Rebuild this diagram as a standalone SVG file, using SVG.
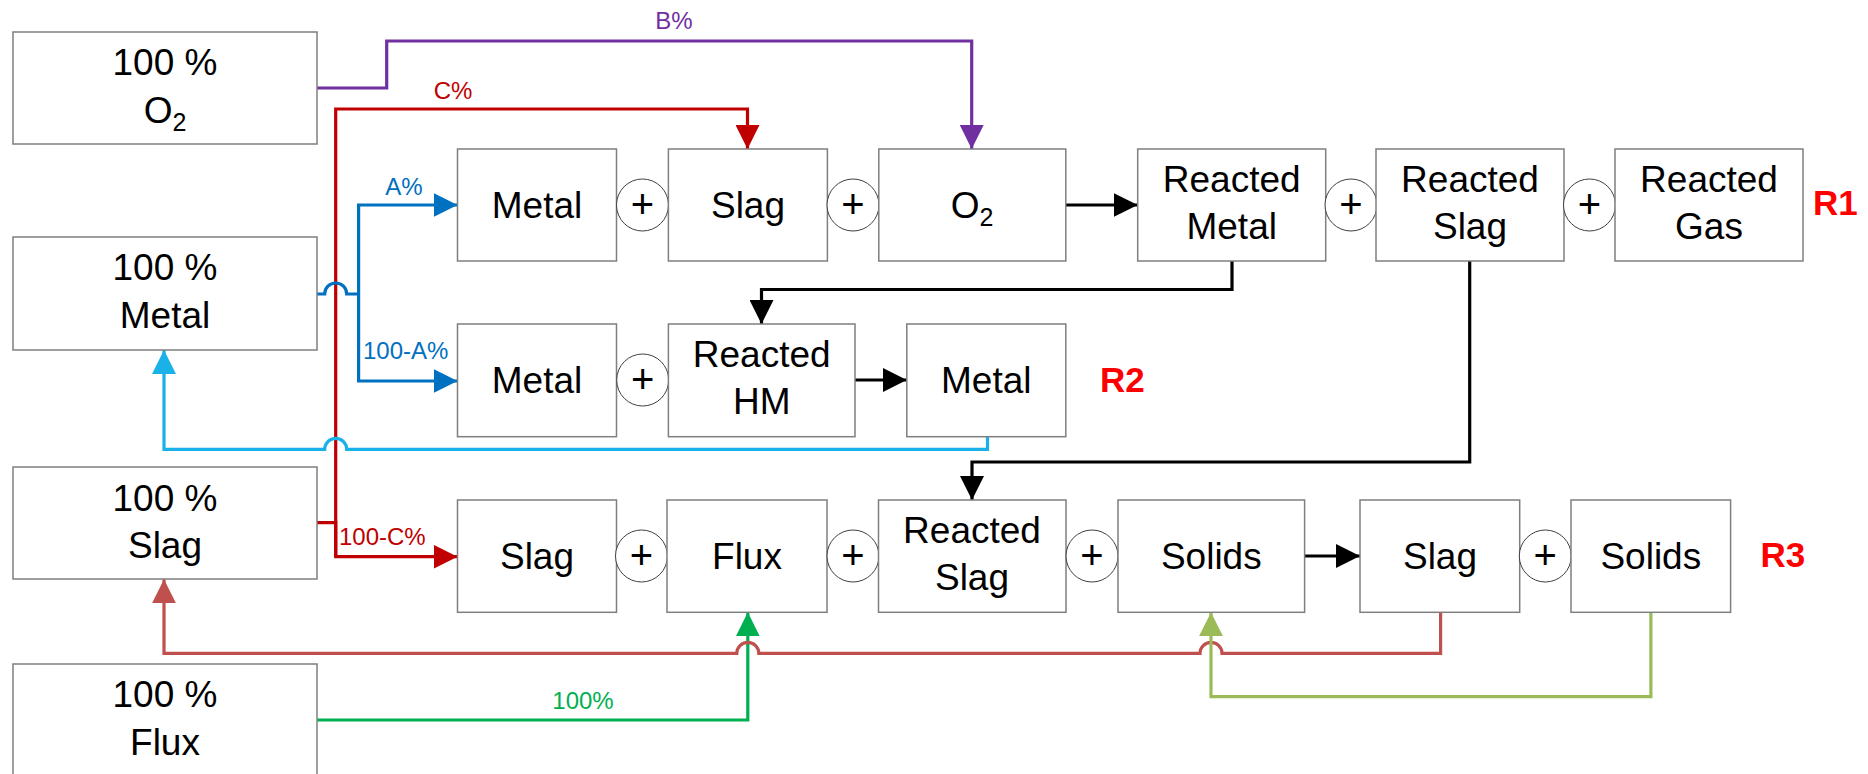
<svg xmlns="http://www.w3.org/2000/svg" width="1868" height="774" viewBox="0 0 1868 774">
<style>
.box{fill:#fff;stroke:#7f7f7f;stroke-width:1.5}
.t{font-family:"Liberation Sans",Arial,sans-serif;font-size:37px;fill:#000;text-anchor:middle}
.pl{fill:#fff;stroke:#404040;stroke-width:1}
.pt{font-family:"Liberation Sans",Arial,sans-serif;font-size:40px;fill:#000;text-anchor:middle}
.lbl{font-family:"Liberation Sans",Arial,sans-serif;font-size:24px}
.r{font-family:"Liberation Sans",Arial,sans-serif;font-size:35px;font-weight:bold;fill:#ff0000}
.c{fill:none;stroke-width:3.2}
</style>
<defs>
<marker id="mk" markerUnits="userSpaceOnUse" markerWidth="24" markerHeight="24" refX="24" refY="12" orient="auto"><path d="M0,0 L24,12 L0,24 z" fill="#000"/></marker>
<marker id="mr" markerUnits="userSpaceOnUse" markerWidth="24" markerHeight="24" refX="24" refY="12" orient="auto"><path d="M0,0 L24,12 L0,24 z" fill="#c00000"/></marker>
<marker id="mp" markerUnits="userSpaceOnUse" markerWidth="24" markerHeight="24" refX="24" refY="12" orient="auto"><path d="M0,0 L24,12 L0,24 z" fill="#7030a0"/></marker>
<marker id="mb" markerUnits="userSpaceOnUse" markerWidth="24" markerHeight="24" refX="24" refY="12" orient="auto"><path d="M0,0 L24,12 L0,24 z" fill="#0070c0"/></marker>
<marker id="mlb" markerUnits="userSpaceOnUse" markerWidth="24" markerHeight="24" refX="24" refY="12" orient="auto"><path d="M0,0 L24,12 L0,24 z" fill="#1ab0e8"/></marker>
<marker id="mbr" markerUnits="userSpaceOnUse" markerWidth="24" markerHeight="24" refX="24" refY="12" orient="auto"><path d="M0,0 L24,12 L0,24 z" fill="#c0504d"/></marker>
<marker id="mg" markerUnits="userSpaceOnUse" markerWidth="24" markerHeight="24" refX="24" refY="12" orient="auto"><path d="M0,0 L24,12 L0,24 z" fill="#00b050"/></marker>
<marker id="mlg" markerUnits="userSpaceOnUse" markerWidth="24" markerHeight="24" refX="24" refY="12" orient="auto"><path d="M0,0 L24,12 L0,24 z" fill="#9bbb59"/></marker>
</defs>
<rect width="1868" height="774" fill="#fff"/>

<g id="connectors">
<path class="c" stroke="#7030a0" d="M317,88 H386.7 V41 H971.7 V149" marker-end="url(#mp)"/>
<path class="c" stroke="#c00000" d="M335.7,556.7 V109 H747.5 V149" marker-end="url(#mr)"/>
<path class="c" stroke="#c00000" d="M316,522.7 H335.7 V556.7 H457.5" marker-end="url(#mr)"/>
<path class="c" stroke="#0070c0" d="M317,294 H324.7 A11,11 0 0 1 346.7,294 H358.6"/>
<path class="c" stroke="#0070c0" d="M358.6,294 V205 H457.5" marker-end="url(#mb)"/>
<path class="c" stroke="#0070c0" d="M358.6,294 V381 H457.5" marker-end="url(#mb)"/>
<path class="c" stroke="#1ab0e8" d="M987.5,436.7 V449.3 H346.7 A11,11 0 0 0 324.7,449.3 H164 V350" marker-end="url(#mlb)"/>
<path class="c" stroke="#000" d="M1065.8,205 H1137.7" marker-end="url(#mk)"/>
<path class="c" stroke="#000" d="M1232,261 V289.5 H761.5 V324" marker-end="url(#mk)"/>
<path class="c" stroke="#000" d="M855,380 H906.8" marker-end="url(#mk)"/>
<path class="c" stroke="#000" d="M1469.7,261 V462 H972 V500" marker-end="url(#mk)"/>
<path class="c" stroke="#000" d="M1304.6,556 H1360" marker-end="url(#mk)"/>
<path class="c" stroke="#00b050" d="M316,720 H747.8 V612.3" marker-end="url(#mg)"/>
<path class="c" stroke="#c0504d" d="M1440.6,612.3 V653.3 H1222 A11,11 0 0 0 1200,653.3 H758.8 A11,11 0 0 0 736.8,653.3 H164 V579.3" marker-end="url(#mbr)"/>
<path class="c" stroke="#9bbb59" d="M1650.9,612.3 V696.7 H1211 V612.3" marker-end="url(#mlg)"/>
<text class="lbl" fill="#7030a0" x="674" y="29" text-anchor="middle">B%</text>
<text class="lbl" fill="#c00000" x="453" y="99" text-anchor="middle">C%</text>
<text class="lbl" fill="#0070c0" x="404" y="195" text-anchor="middle">A%</text>
<text class="lbl" fill="#0070c0" x="363" y="359">100-A%</text>
<text class="lbl" fill="#c00000" x="339" y="545">100-C%</text>
<text class="lbl" fill="#00b050" x="583" y="709" text-anchor="middle">100%</text>
</g>

<g id="src-o2"><rect class="box" x="13" y="32" width="304" height="112"/><text class="t" x="165" y="75">100 %</text><text class="t" x="165" y="123">O<tspan font-size="25" dy="8">2</tspan></text></g>
<g id="src-metal"><rect class="box" x="13" y="237" width="304" height="113"/><text class="t" x="165" y="280">100 %</text><text class="t" x="165" y="328">Metal</text></g>
<g id="src-slag"><rect class="box" x="13" y="467" width="304" height="112"/><text class="t" x="165" y="510.7">100 %</text><text class="t" x="165" y="557.7">Slag</text></g>
<g id="src-flux"><rect class="box" x="13" y="664" width="304" height="114"/><text class="t" x="165" y="707">100 %</text><text class="t" x="165" y="755">Flux</text></g>

<g id="r1-metal"><rect class="box" x="457.5" y="149" width="159" height="112"/><text class="t" x="537" y="218">Metal</text></g>
<g id="r1-p1"><circle class="pl" cx="642.5" cy="205" r="26"/><text class="pt" x="642.5" y="218">+</text></g>
<g id="r1-slag"><rect class="box" x="668.4" y="149" width="159" height="112"/><text class="t" x="748" y="218">Slag</text></g>
<g id="r1-p2"><circle class="pl" cx="853" cy="205" r="26"/><text class="pt" x="853" y="218">+</text></g>
<g id="r1-o2"><rect class="box" x="878.8" y="149" width="187" height="112"/><text class="t" x="972" y="218">O<tspan font-size="25" dy="8">2</tspan></text></g>
<g id="r1-rmetal"><rect class="box" x="1137.7" y="149" width="188" height="112"/><text class="t" x="1231.7" y="191.7">Reacted</text><text class="t" x="1231.7" y="239">Metal</text></g>
<g id="r1-p3"><circle class="pl" cx="1351" cy="205" r="26"/><text class="pt" x="1351" y="218">+</text></g>
<g id="r1-rslag"><rect class="box" x="1376" y="149" width="188" height="112"/><text class="t" x="1470" y="191.7">Reacted</text><text class="t" x="1470" y="239">Slag</text></g>
<g id="r1-p4"><circle class="pl" cx="1589.5" cy="205" r="26"/><text class="pt" x="1589.5" y="218">+</text></g>
<g id="r1-rgas"><rect class="box" x="1615" y="149" width="188" height="112"/><text class="t" x="1709" y="191.7">Reacted</text><text class="t" x="1709" y="239">Gas</text></g>
<g id="r1-label"><text class="r" x="1813" y="215">R1</text></g>

<g id="r2-metal"><rect class="box" x="457.5" y="324" width="159" height="112.7"/><text class="t" x="537" y="393">Metal</text></g>
<g id="r2-p1"><circle class="pl" cx="642.7" cy="380" r="26"/><text class="pt" x="642.7" y="393">+</text></g>
<g id="r2-rhm"><rect class="box" x="668.4" y="324" width="186.6" height="112.7"/><text class="t" x="761.7" y="366.7">Reacted</text><text class="t" x="761.7" y="414">HM</text></g>
<g id="r2-metal2"><rect class="box" x="906.8" y="324" width="159" height="112.7"/><text class="t" x="986.3" y="393">Metal</text></g>
<g id="r2-label"><text class="r" x="1100" y="392">R2</text></g>

<g id="r3-slag"><rect class="box" x="457.5" y="500" width="159" height="112.3"/><text class="t" x="537" y="569">Slag</text></g>
<g id="r3-p1"><circle class="pl" cx="641.5" cy="556" r="26"/><text class="pt" x="641.5" y="569">+</text></g>
<g id="r3-flux"><rect class="box" x="667" y="500" width="160" height="112.3"/><text class="t" x="747" y="569">Flux</text></g>
<g id="r3-p2"><circle class="pl" cx="853" cy="556" r="26"/><text class="pt" x="853" y="569">+</text></g>
<g id="r3-rslag"><rect class="box" x="878.5" y="500" width="187.5" height="112.3"/><text class="t" x="972" y="542.7">Reacted</text><text class="t" x="972" y="590">Slag</text></g>
<g id="r3-p3"><circle class="pl" cx="1092" cy="556" r="26"/><text class="pt" x="1092" y="569">+</text></g>
<g id="r3-solids"><rect class="box" x="1118" y="500" width="186.6" height="112.3"/><text class="t" x="1211.3" y="569">Solids</text></g>
<g id="r3-slag2"><rect class="box" x="1360" y="500" width="159.7" height="112.3"/><text class="t" x="1440" y="569">Slag</text></g>
<g id="r3-p4"><circle class="pl" cx="1545.3" cy="556" r="26"/><text class="pt" x="1545.3" y="569">+</text></g>
<g id="r3-solids2"><rect class="box" x="1571" y="500" width="159.6" height="112.3"/><text class="t" x="1650.8" y="569">Solids</text></g>
<g id="r3-label"><text class="r" x="1760.5" y="567">R3</text></g>
</svg>
